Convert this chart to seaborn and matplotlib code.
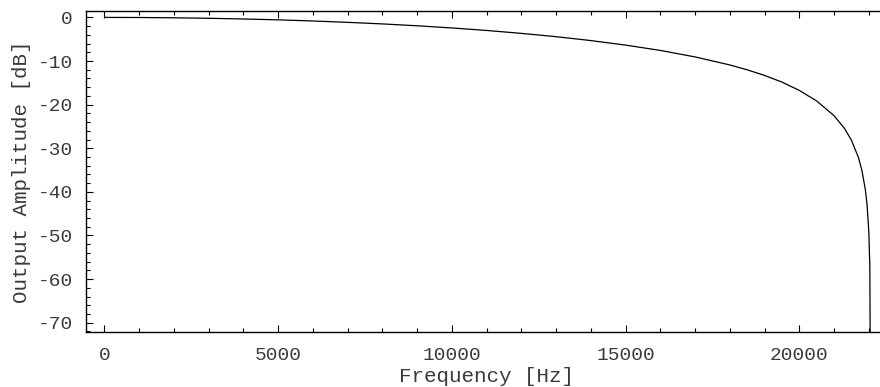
import matplotlib
matplotlib.use("Agg")
import matplotlib.pyplot as plt
from matplotlib.ticker import MultipleLocator
import numpy as np
import pandas as pd
import seaborn as sns

# Frequency response readings (Hz, dB)
freq_hz = [0, 1000, 2000, 3000, 4000, 5000, 6000, 7000, 8000, 9000,
           10000, 11000, 12000, 13000, 14000, 15000, 16000, 17000, 18000,
           18500, 19000, 19500, 20000, 20500, 21000, 21300, 21500, 21700,
           21800, 21900, 21950, 22000, 22030, 22050]
amp_db = [0.0, -0.02, -0.09, -0.20, -0.36, -0.56, -0.82, -1.13, -1.49, -1.92,
          -2.42, -2.99, -3.66, -4.42, -5.31, -6.35, -7.57, -9.06, -10.90,
          -12.01, -13.30, -14.82, -16.74, -19.16, -22.53, -25.45, -28.14, -32.07,
          -34.99, -39.42, -42.95, -48.97, -56.92, -90.0]

x_major = [0, 5000, 10000, 15000, 20000]
y_major = [0, -10, -20, -30, -40, -50, -60, -70]

df = pd.DataFrame({"Frequency": freq_hz, "Amplitude": amp_db})

sns.set_theme(style="white")
plt.rcParams["font.family"] = ["Liberation Mono", "DejaVu Sans Mono"]
plt.rcParams["axes.unicode_minus"] = False

fig = plt.figure(figsize=(8.8, 3.87), dpi=100)
ax = fig.add_axes([86 / 880, 55 / 387, 803 / 880, 321 / 387])

sns.lineplot(data=df, x="Frequency", y="Amplitude", ax=ax, color="black",
             linewidth=0.9, sort=False, estimator=None)

ax.set_xlim(-532, 22582)
ax.set_ylim(-72.13, 1.47)

ax.set_xticks(x_major)
ax.set_yticks(y_major)
ax.set_xticklabels([str(v) for v in x_major])
ax.set_yticklabels([str(v) for v in y_major])
ax.xaxis.set_minor_locator(MultipleLocator(1000))
ax.yaxis.set_minor_locator(MultipleLocator(2))

text_color = "#3a3a3a"
ax.tick_params(axis="both", which="both", direction="in", colors="black",
               labelcolor=text_color, labelsize=14, width=0.8)
ax.tick_params(axis="x", which="both", top=True, bottom=True, pad=11)
ax.tick_params(axis="y", which="both", left=True, right=False, pad=9.5)
ax.tick_params(which="major", length=5)
ax.tick_params(which="minor", length=3)

for side in ["left", "bottom", "top"]:
    ax.spines[side].set_visible(True)
    ax.spines[side].set_color("black")
    ax.spines[side].set_linewidth(1.0)
ax.spines["right"].set_visible(False)

ax.set_xlabel("Frequency [Hz]", fontsize=15, color=text_color)
ax.xaxis.set_label_coords(0.4988, -0.108)
ax.set_ylabel("Output Amplitude [dB]", fontsize=15, color=text_color, labelpad=5)

fig.savefig("out.png", dpi=100)
